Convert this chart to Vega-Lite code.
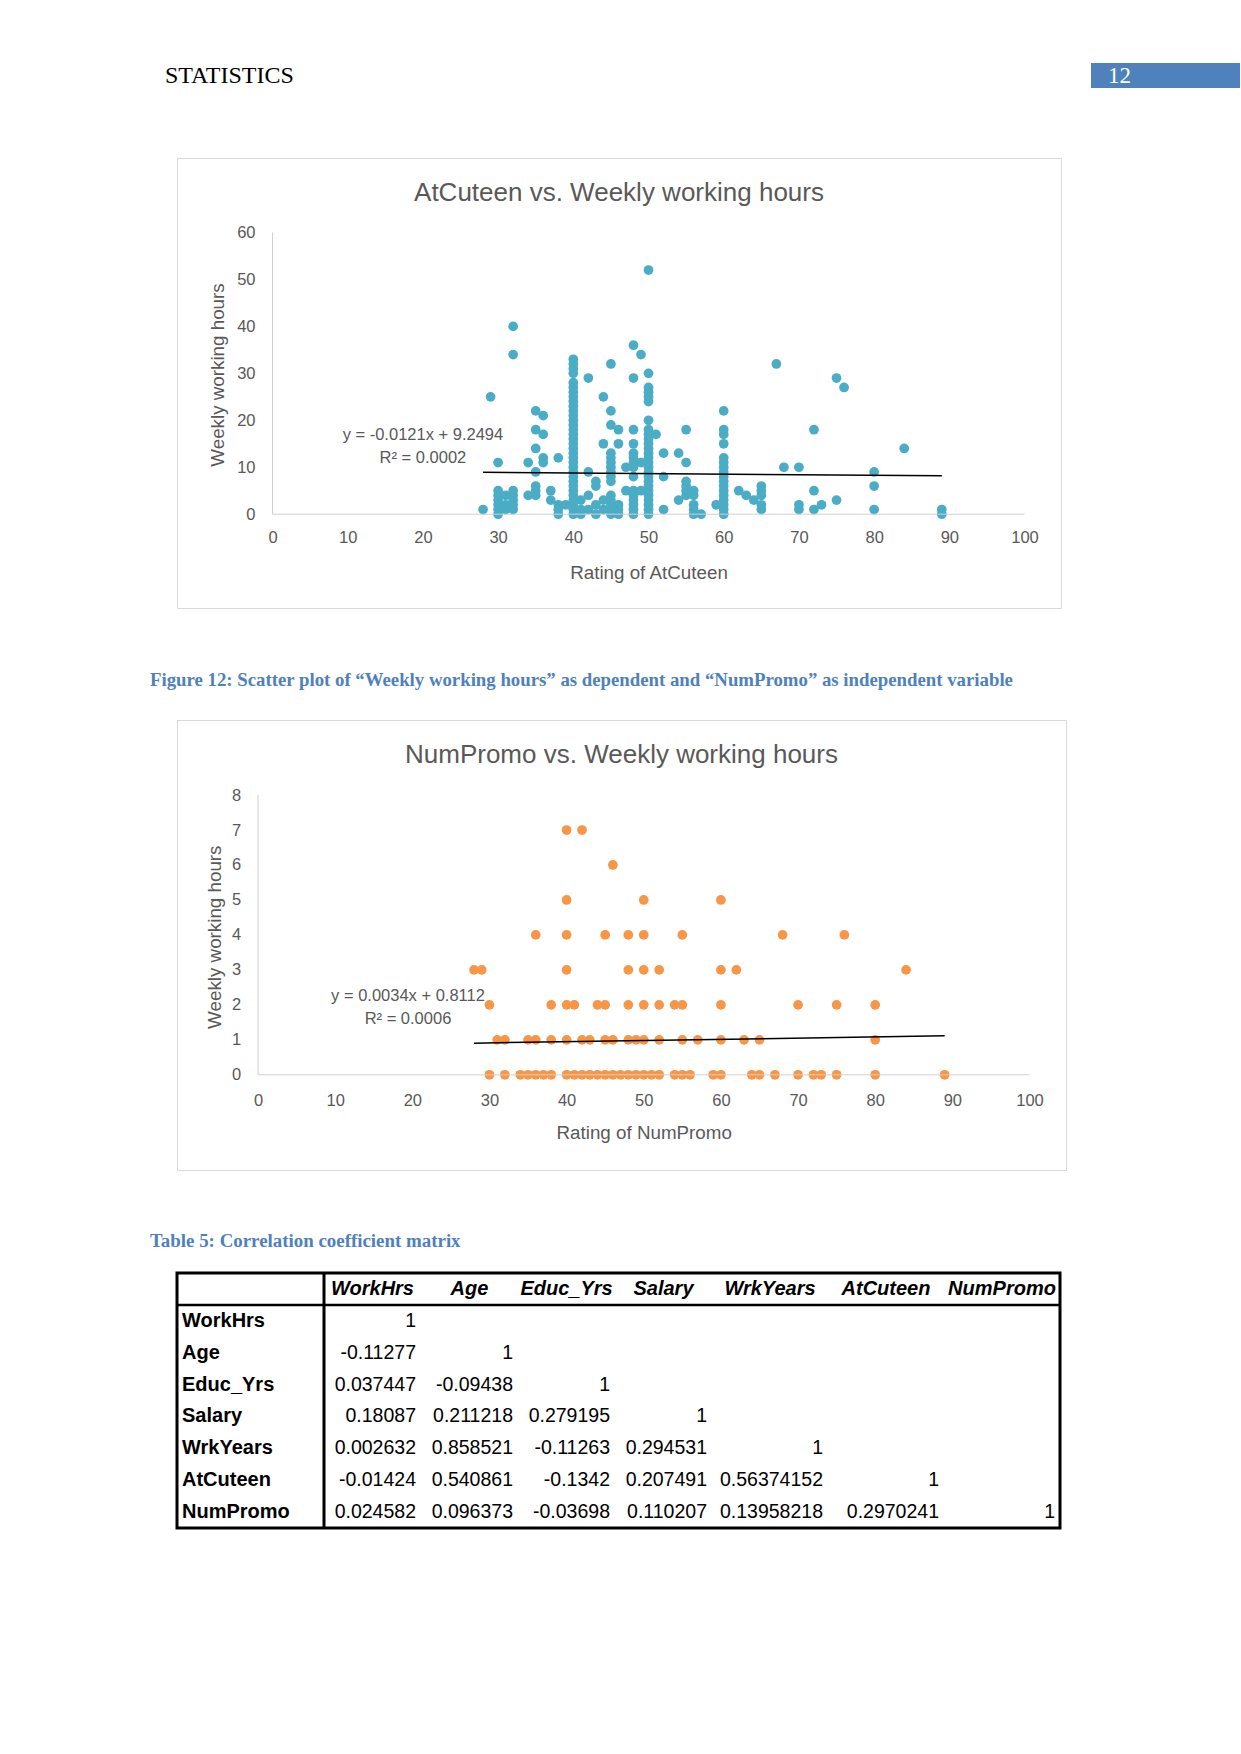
{
  "$schema": "https://vega.github.io/schema/vega-lite/v6.json",
  "background": "white",
  "padding": {"left": 150, "top": 63, "right": 0, "bottom": 0},
  "config": {"view": {"stroke": null}, "font": "Liberation Sans"},
  "datasets": {
    "atcuteen": [
      {"rating":28,"hours":1},{"rating":29,"hours":25},
      {"rating":30,"hours":11},{"rating":30,"hours":5},{"rating":30,"hours":4},{"rating":30,"hours":3},{"rating":30,"hours":2},{"rating":30,"hours":1},{"rating":30,"hours":0},
      {"rating":31,"hours":4},{"rating":31,"hours":2},{"rating":31,"hours":1},
      {"rating":32,"hours":40},{"rating":32,"hours":34},{"rating":32,"hours":5},{"rating":32,"hours":4},{"rating":32,"hours":3},{"rating":32,"hours":2},{"rating":32,"hours":1},
      {"rating":34,"hours":11},{"rating":34,"hours":4},
      {"rating":35,"hours":22},{"rating":35,"hours":18},{"rating":35,"hours":14},{"rating":35,"hours":9},{"rating":35,"hours":6},{"rating":35,"hours":5},{"rating":35,"hours":4},
      {"rating":36,"hours":21},{"rating":36,"hours":17},{"rating":36,"hours":12},{"rating":36,"hours":11},
      {"rating":37,"hours":5},{"rating":37,"hours":3},
      {"rating":38,"hours":12},{"rating":38,"hours":2},{"rating":38,"hours":1},{"rating":38,"hours":0},
      {"rating":39,"hours":2},
      {"rating":40,"hours":0},{"rating":40,"hours":1},{"rating":40,"hours":2},{"rating":40,"hours":3},{"rating":40,"hours":4},{"rating":40,"hours":5},{"rating":40,"hours":6},{"rating":40,"hours":7},{"rating":40,"hours":8},{"rating":40,"hours":9},{"rating":40,"hours":10},{"rating":40,"hours":11},{"rating":40,"hours":12},{"rating":40,"hours":13},{"rating":40,"hours":14},{"rating":40,"hours":15},{"rating":40,"hours":16},{"rating":40,"hours":17},{"rating":40,"hours":18},{"rating":40,"hours":19},{"rating":40,"hours":20},{"rating":40,"hours":21},{"rating":40,"hours":22},{"rating":40,"hours":23},{"rating":40,"hours":24},{"rating":40,"hours":25},{"rating":40,"hours":26},{"rating":40,"hours":27},{"rating":40,"hours":28},{"rating":40,"hours":30},{"rating":40,"hours":31},{"rating":40,"hours":32},{"rating":40,"hours":33},
      {"rating":41,"hours":3},{"rating":41,"hours":1},{"rating":41,"hours":0},
      {"rating":42,"hours":29},{"rating":42,"hours":9},{"rating":42,"hours":4},{"rating":42,"hours":1},
      {"rating":43,"hours":7},{"rating":43,"hours":6},{"rating":43,"hours":2},{"rating":43,"hours":0},
      {"rating":44,"hours":25},{"rating":44,"hours":15},{"rating":44,"hours":3},{"rating":44,"hours":1},
      {"rating":45,"hours":32},{"rating":45,"hours":22},{"rating":45,"hours":19},{"rating":45,"hours":13},{"rating":45,"hours":12},{"rating":45,"hours":11},{"rating":45,"hours":10},{"rating":45,"hours":9},{"rating":45,"hours":8},{"rating":45,"hours":7},{"rating":45,"hours":4},{"rating":45,"hours":3},{"rating":45,"hours":2},{"rating":45,"hours":1},{"rating":45,"hours":0},
      {"rating":46,"hours":18},{"rating":46,"hours":15},{"rating":46,"hours":2},{"rating":46,"hours":1},{"rating":46,"hours":0},
      {"rating":47,"hours":10},{"rating":47,"hours":5},
      {"rating":48,"hours":36},{"rating":48,"hours":29},{"rating":48,"hours":18},{"rating":48,"hours":15},{"rating":48,"hours":13},{"rating":48,"hours":12},{"rating":48,"hours":11},{"rating":48,"hours":10},{"rating":48,"hours":8},{"rating":48,"hours":5},{"rating":48,"hours":4},{"rating":48,"hours":3},{"rating":48,"hours":2},{"rating":48,"hours":1},{"rating":48,"hours":0},
      {"rating":49,"hours":34},{"rating":49,"hours":11},{"rating":49,"hours":5},
      {"rating":50,"hours":0},{"rating":50,"hours":1},{"rating":50,"hours":2},{"rating":50,"hours":3},{"rating":50,"hours":4},{"rating":50,"hours":5},{"rating":50,"hours":6},{"rating":50,"hours":7},{"rating":50,"hours":8},{"rating":50,"hours":9},{"rating":50,"hours":10},{"rating":50,"hours":11},{"rating":50,"hours":12},{"rating":50,"hours":13},{"rating":50,"hours":14},{"rating":50,"hours":15},{"rating":50,"hours":16},{"rating":50,"hours":17},{"rating":50,"hours":18},{"rating":50,"hours":20},{"rating":50,"hours":24},{"rating":50,"hours":25},{"rating":50,"hours":26},{"rating":50,"hours":27},{"rating":50,"hours":30},{"rating":50,"hours":52},
      {"rating":51,"hours":17},
      {"rating":52,"hours":13},{"rating":52,"hours":8},{"rating":52,"hours":1},
      {"rating":54,"hours":13},{"rating":54,"hours":3},
      {"rating":55,"hours":18},{"rating":55,"hours":11},{"rating":55,"hours":7},{"rating":55,"hours":6},{"rating":55,"hours":5},{"rating":55,"hours":4},
      {"rating":56,"hours":5},{"rating":56,"hours":4},{"rating":56,"hours":2},{"rating":56,"hours":1},{"rating":56,"hours":0},
      {"rating":57,"hours":0},{"rating":59,"hours":2},
      {"rating":60,"hours":0},{"rating":60,"hours":1},{"rating":60,"hours":2},{"rating":60,"hours":3},{"rating":60,"hours":4},{"rating":60,"hours":5},{"rating":60,"hours":6},{"rating":60,"hours":7},{"rating":60,"hours":8},{"rating":60,"hours":9},{"rating":60,"hours":10},{"rating":60,"hours":11},{"rating":60,"hours":12},{"rating":60,"hours":15},{"rating":60,"hours":17},{"rating":60,"hours":18},{"rating":60,"hours":22},
      {"rating":62,"hours":5},{"rating":63,"hours":4},{"rating":64,"hours":3},
      {"rating":65,"hours":6},{"rating":65,"hours":5},{"rating":65,"hours":4},{"rating":65,"hours":2},{"rating":65,"hours":1},
      {"rating":67,"hours":32},{"rating":68,"hours":10},
      {"rating":70,"hours":10},{"rating":70,"hours":2},{"rating":70,"hours":1},
      {"rating":72,"hours":18},{"rating":72,"hours":5},{"rating":72,"hours":1},
      {"rating":73,"hours":2},
      {"rating":75,"hours":29},{"rating":75,"hours":3},{"rating":76,"hours":27},
      {"rating":80,"hours":9},{"rating":80,"hours":6},{"rating":80,"hours":1},
      {"rating":84,"hours":14},{"rating":89,"hours":1},{"rating":89,"hours":0}
    ],
    "trend1": [{"rating":28,"hours":8.91},{"rating":89,"hours":8.17}],
    "numpromo": [
      {"rating":40,"value":7},{"rating":42,"value":7},
      {"rating":46,"value":6},
      {"rating":40,"value":5},{"rating":50,"value":5},{"rating":60,"value":5},
      {"rating":36,"value":4},{"rating":40,"value":4},{"rating":45,"value":4},{"rating":48,"value":4},{"rating":50,"value":4},{"rating":55,"value":4},{"rating":68,"value":4},{"rating":76,"value":4},
      {"rating":28,"value":3},{"rating":29,"value":3},{"rating":40,"value":3},{"rating":48,"value":3},{"rating":50,"value":3},{"rating":52,"value":3},{"rating":60,"value":3},{"rating":62,"value":3},{"rating":84,"value":3},
      {"rating":30,"value":2},{"rating":38,"value":2},{"rating":40,"value":2},{"rating":41,"value":2},{"rating":44,"value":2},{"rating":45,"value":2},{"rating":48,"value":2},{"rating":50,"value":2},{"rating":52,"value":2},{"rating":54,"value":2},{"rating":55,"value":2},{"rating":60,"value":2},{"rating":70,"value":2},{"rating":75,"value":2},{"rating":80,"value":2},
      {"rating":31,"value":1},{"rating":32,"value":1},{"rating":35,"value":1},{"rating":36,"value":1},{"rating":38,"value":1},{"rating":40,"value":1},{"rating":42,"value":1},{"rating":43,"value":1},{"rating":45,"value":1},{"rating":46,"value":1},{"rating":48,"value":1},{"rating":49,"value":1},{"rating":50,"value":1},{"rating":52,"value":1},{"rating":55,"value":1},{"rating":57,"value":1},{"rating":60,"value":1},{"rating":63,"value":1},{"rating":65,"value":1},{"rating":80,"value":1},
      {"rating":30,"value":0},{"rating":32,"value":0},{"rating":34,"value":0},{"rating":35,"value":0},{"rating":36,"value":0},{"rating":37,"value":0},{"rating":38,"value":0},{"rating":40,"value":0},{"rating":41,"value":0},{"rating":42,"value":0},{"rating":43,"value":0},{"rating":44,"value":0},{"rating":45,"value":0},{"rating":46,"value":0},{"rating":47,"value":0},{"rating":48,"value":0},{"rating":49,"value":0},{"rating":50,"value":0},{"rating":51,"value":0},{"rating":52,"value":0},{"rating":54,"value":0},{"rating":55,"value":0},{"rating":56,"value":0},{"rating":59,"value":0},{"rating":60,"value":0},{"rating":64,"value":0},{"rating":65,"value":0},{"rating":67,"value":0},{"rating":70,"value":0},{"rating":72,"value":0},{"rating":73,"value":0},{"rating":75,"value":0},{"rating":80,"value":0},{"rating":89,"value":0}
    ],
    "trend2": [{"rating":28,"value":0.906},{"rating":89,"value":1.114}],
    "vars": [{"name":"WorkHrs"},{"name":"Age"},{"name":"Educ_Yrs"},{"name":"Salary"},{"name":"WrkYears"},{"name":"AtCuteen"},{"name":"NumPromo"}],
    "corr": [
      {"r":"WorkHrs","c":"WorkHrs","v":"1"},
      {"r":"Age","c":"WorkHrs","v":"-0.11277"},{"r":"Age","c":"Age","v":"1"},
      {"r":"Educ_Yrs","c":"WorkHrs","v":"0.037447"},{"r":"Educ_Yrs","c":"Age","v":"-0.09438"},{"r":"Educ_Yrs","c":"Educ_Yrs","v":"1"},
      {"r":"Salary","c":"WorkHrs","v":"0.18087"},{"r":"Salary","c":"Age","v":"0.211218"},{"r":"Salary","c":"Educ_Yrs","v":"0.279195"},{"r":"Salary","c":"Salary","v":"1"},
      {"r":"WrkYears","c":"WorkHrs","v":"0.002632"},{"r":"WrkYears","c":"Age","v":"0.858521"},{"r":"WrkYears","c":"Educ_Yrs","v":"-0.11263"},{"r":"WrkYears","c":"Salary","v":"0.294531"},{"r":"WrkYears","c":"WrkYears","v":"1"},
      {"r":"AtCuteen","c":"WorkHrs","v":"-0.01424"},{"r":"AtCuteen","c":"Age","v":"0.540861"},{"r":"AtCuteen","c":"Educ_Yrs","v":"-0.1342"},{"r":"AtCuteen","c":"Salary","v":"0.207491"},{"r":"AtCuteen","c":"WrkYears","v":"0.56374152"},{"r":"AtCuteen","c":"AtCuteen","v":"1"},
      {"r":"NumPromo","c":"WorkHrs","v":"0.024582"},{"r":"NumPromo","c":"Age","v":"0.096373"},{"r":"NumPromo","c":"Educ_Yrs","v":"-0.03698"},{"r":"NumPromo","c":"Salary","v":"0.110207"},{"r":"NumPromo","c":"WrkYears","v":"0.13958218"},{"r":"NumPromo","c":"AtCuteen","v":"0.2970241"},{"r":"NumPromo","c":"NumPromo","v":"1"}
    ]
  },
  "spacing": 0,
  "vconcat": [
    {
      "spacing": 0,
      "hconcat": [
        {
          "width": 914, "height": 94,
          "title": {"text": "STATISTICS", "anchor": "start", "frame": "group", "orient": "top", "dx": -12, "offset": -25, "font": "Liberation Serif", "fontSize": 24, "fontWeight": "normal", "color": "#000000"},
          "data": {"values": []},
          "mark": "point"
        },
        {
          "width": 149, "height": 25,
          "view": {"fill": "#4f81bd", "stroke": null},
          "data": {"values": [{"page": "12"}]},
          "mark": {"type": "text", "align": "left", "baseline": "middle", "dx": -57.5, "font": "Liberation Serif", "fontSize": 23, "color": "#ffffff"},
          "encoding": {"text": {"field": "page", "type": "nominal"}}
        }
      ]
    },
    {
      "width": 884, "height": 450,
      "view": {"stroke": "#d9d9d9", "strokeWidth": 1},
      "title": {"text": "AtCuteen vs. Weekly working hours", "anchor": "middle", "frame": "group", "offset": -48.3, "font": "Liberation Sans", "fontSize": 26, "fontWeight": "normal", "color": "#595959"},
      "layer": [
        {
          "data": {"name": "atcuteen"},
          "mark": {"type": "circle", "size": 95, "opacity": 1, "color": "#4bacc6"},
          "encoding": {
            "x": {"field": "rating", "type": "quantitative",
              "scale": {"domain": [-12.7, 104.85], "nice": false, "zero": false},
              "axis": {"values": [0,10,20,30,40,50,60,70,80,90,100], "domain": false, "grid": false, "ticks": false, "labelFlush": false, "labelOverlap": false, "labelPadding": 0, "offset": -78.5, "labelFont": "Liberation Sans", "labelFontSize": 16.5, "labelColor": "#595959", "labelBaseline": "top", "labelAlign": "center", "title": "Rating of AtCuteen", "titleFont": "Liberation Sans", "titleFontSize": 18.8, "titleFontWeight": "normal", "titleColor": "#595959", "titleX": 471.5, "titleY": 33.7, "titleAlign": "center", "titleBaseline": "top", "titleAngle": 0}},
            "y": {"field": "hours", "type": "quantitative",
              "scale": {"domain": [-19.98, 75.87], "nice": false, "zero": false},
              "axis": {"values": [0,10,20,30,40,50,60], "domain": false, "grid": false, "ticks": false, "labelFlush": false, "labelOverlap": false, "labelPadding": 0, "offset": -78, "labelFont": "Liberation Sans", "labelFontSize": 16.5, "labelColor": "#595959", "labelAlign": "right", "labelBaseline": "middle", "labelAngle": 0, "title": "Weekly working hours", "titleFont": "Liberation Sans", "titleFontSize": 18.8, "titleFontWeight": "normal", "titleColor": "#595959", "titleX": -28, "titleY": 216.5, "titleAlign": "center", "titleBaseline": "bottom", "titleAngle": 270}}
          }
        },
        {
          "data": {"values": [{}]},
          "mark": {"type": "rule", "color": "#d0d0d0", "strokeWidth": 1},
          "encoding": {"x": {"datum": 0}, "x2": {"datum": 100}, "y": {"datum": 0}}
        },
        {
          "data": {"values": [{}]},
          "mark": {"type": "rule", "color": "#d0d0d0", "strokeWidth": 1},
          "encoding": {"x": {"datum": 0}, "y": {"datum": 0}, "y2": {"datum": 60}}
        },
        {
          "data": {"name": "trend1"},
          "mark": {"type": "line", "color": "#000000", "strokeWidth": 1.5},
          "encoding": {"x": {"field": "rating", "type": "quantitative"}, "y": {"field": "hours", "type": "quantitative"}}
        },
        {
          "data": {"values": [{}]},
          "mark": {"type": "text", "font": "Liberation Sans", "fontSize": 16.5, "color": "#595959", "align": "center", "baseline": "middle"},
          "encoding": {"x": {"datum": 20}, "y": {"datum": 16.8}, "text": {"value": "y = -0.0121x + 9.2494"}}
        },
        {
          "data": {"values": [{}]},
          "mark": {"type": "text", "font": "Liberation Sans", "fontSize": 16.5, "color": "#595959", "align": "center", "baseline": "middle"},
          "encoding": {"x": {"datum": 20}, "y": {"datum": 12.0}, "text": {"value": "R² = 0.0002"}}
        }
      ]
    },
    {
      "width": 884, "height": 110,
      "title": {"text": "Figure 12: Scatter plot of “Weekly working hours” as dependent and “NumPromo” as independent variable", "anchor": "start", "frame": "group", "dx": -27, "offset": -80.7, "font": "Liberation Serif", "fontSize": 18.8, "fontWeight": "bold", "color": "#4f81bd", "limit": 1100},
      "data": {"values": []},
      "mark": "point"
    },
    {
      "width": 889, "height": 450,
      "view": {"stroke": "#d9d9d9", "strokeWidth": 1},
      "title": {"text": "NumPromo vs. Weekly working hours", "anchor": "middle", "frame": "group", "offset": -48.3, "font": "Liberation Sans", "fontSize": 26, "fontWeight": "normal", "color": "#595959"},
      "layer": [
        {
          "data": {"name": "numpromo"},
          "mark": {"type": "circle", "size": 95, "opacity": 1, "color": "#f79646"},
          "encoding": {
            "x": {"field": "rating", "type": "quantitative",
              "scale": {"domain": [-10.5, 104.73], "nice": false, "zero": false},
              "axis": {"values": [0,10,20,30,40,50,60,70,80,90,100], "domain": false, "grid": false, "ticks": false, "labelFlush": false, "labelOverlap": false, "labelPadding": 0, "offset": -77.5, "labelFont": "Liberation Sans", "labelFontSize": 16.5, "labelColor": "#595959", "labelBaseline": "top", "labelAlign": "center", "title": "Rating of NumPromo", "titleFont": "Liberation Sans", "titleFontSize": 18.8, "titleFontWeight": "normal", "titleColor": "#595959", "titleX": 466.7, "titleY": 31.2, "titleAlign": "center", "titleBaseline": "top", "titleAngle": 0}},
            "y": {"field": "value", "type": "quantitative",
              "scale": {"domain": [-2.722, 10.146], "nice": false, "zero": false},
              "axis": {"values": [0,1,2,3,4,5,6,7,8], "domain": false, "grid": false, "ticks": false, "labelFlush": false, "labelOverlap": false, "labelPadding": 0, "offset": -63.7, "labelFont": "Liberation Sans", "labelFontSize": 16.5, "labelColor": "#595959", "labelAlign": "right", "labelBaseline": "middle", "labelAngle": 0, "title": "Weekly working hours", "titleFont": "Liberation Sans", "titleFontSize": 18.8, "titleFontWeight": "normal", "titleColor": "#595959", "titleX": -16.6, "titleY": 216.7, "titleAlign": "center", "titleBaseline": "bottom", "titleAngle": 270}}
          }
        },
        {
          "data": {"values": [{}]},
          "mark": {"type": "rule", "color": "#d0d0d0", "strokeWidth": 1},
          "encoding": {"x": {"datum": 0}, "x2": {"datum": 100}, "y": {"datum": 0}}
        },
        {
          "data": {"values": [{}]},
          "mark": {"type": "rule", "color": "#d0d0d0", "strokeWidth": 1},
          "encoding": {"x": {"datum": 0}, "y": {"datum": 0}, "y2": {"datum": 8}}
        },
        {
          "data": {"name": "trend2"},
          "mark": {"type": "line", "color": "#000000", "strokeWidth": 1.5},
          "encoding": {"x": {"field": "rating", "type": "quantitative"}, "y": {"field": "value", "type": "quantitative"}}
        },
        {
          "data": {"values": [{}]},
          "mark": {"type": "text", "font": "Liberation Sans", "fontSize": 16.5, "color": "#595959", "align": "center", "baseline": "middle"},
          "encoding": {"x": {"datum": 19.44}, "y": {"datum": 2.26}, "text": {"value": "y = 0.0034x + 0.8112"}}
        },
        {
          "data": {"values": [{}]},
          "mark": {"type": "text", "font": "Liberation Sans", "fontSize": 16.5, "color": "#595959", "align": "center", "baseline": "middle"},
          "encoding": {"x": {"datum": 19.44}, "y": {"datum": 1.6}, "text": {"value": "R² = 0.0006"}}
        }
      ]
    },
    {
      "width": 884, "height": 99,
      "title": {"text": "Table 5: Correlation coefficient matrix", "anchor": "start", "frame": "group", "dx": -27, "offset": -80.2, "font": "Liberation Serif", "fontSize": 18.9, "fontWeight": "bold", "color": "#4f81bd", "limit": 1100},
      "data": {"values": []},
      "mark": "point"
    },
    {
      "width": 883, "height": 255,
      "view": {"stroke": "#000000", "strokeWidth": 3},
      "resolve": {"scale": {"x": "independent"}},
      "layer": [
        {
          "data": {"name": "vars"},
          "mark": {"type": "text", "align": "left", "baseline": "middle", "dx": 5, "font": "Liberation Sans", "fontSize": 20, "fontWeight": "bold", "color": "#000000"},
          "encoding": {
            "x": {"datum": "Variable", "type": "nominal", "bandPosition": 0, "axis": null, "scale": {"type": "band", "domain": ["Variable"], "range": [0, 147], "paddingInner": 0, "paddingOuter": 0}},
            "y": {"field": "name", "type": "nominal", "bandPosition": 0.5, "axis": null, "scale": {"type": "band", "domain": ["header","WorkHrs","Age","Educ_Yrs","Salary","WrkYears","AtCuteen","NumPromo"], "paddingInner": 0, "paddingOuter": 0}},
            "text": {"field": "name", "type": "nominal"}
          }
        },
        {
          "data": {"values": [{}]},
          "mark": {"type": "rule", "color": "#000000", "strokeWidth": 3},
          "encoding": {"x": {"datum": "Variable", "type": "nominal", "bandPosition": 1, "axis": null, "scale": {"type": "band", "domain": ["Variable"], "range": [0, 147], "paddingInner": 0, "paddingOuter": 0}}}
        },
        {
          "data": {"values": [{}]},
          "mark": {"type": "rule", "color": "#000000", "strokeWidth": 2.5},
          "encoding": {"y": {"datum": "WorkHrs", "type": "nominal", "bandPosition": 0, "axis": null}}
        },
        {
          "data": {"name": "vars"},
          "transform": [{"filter": {"field": "name", "oneOf": ["WorkHrs","Age","Educ_Yrs","Salary"]}}],
          "mark": {"type": "text", "align": "center", "baseline": "middle", "font": "Liberation Sans", "fontSize": 20, "fontWeight": "bold", "fontStyle": "italic", "color": "#000000"},
          "encoding": {
            "x": {"field": "name", "type": "nominal", "bandPosition": 0.5, "axis": null, "scale": {"type": "band", "domain": ["WorkHrs","Age","Educ_Yrs","Salary"], "range": [147, 535], "paddingInner": 0, "paddingOuter": 0}},
            "y": {"datum": "header", "type": "nominal", "bandPosition": 0.5, "axis": null},
            "text": {"field": "name", "type": "nominal"}
          }
        },
        {
          "data": {"name": "corr"},
          "transform": [{"filter": {"field": "c", "oneOf": ["WorkHrs","Age","Educ_Yrs","Salary"]}}],
          "mark": {"type": "text", "align": "right", "baseline": "middle", "dx": -5, "font": "Liberation Sans", "fontSize": 19.5, "color": "#000000"},
          "encoding": {
            "x": {"field": "c", "type": "nominal", "bandPosition": 1, "axis": null, "scale": {"type": "band", "domain": ["WorkHrs","Age","Educ_Yrs","Salary"], "range": [147, 535], "paddingInner": 0, "paddingOuter": 0}},
            "y": {"field": "r", "type": "nominal", "bandPosition": 0.5, "axis": null},
            "text": {"field": "v", "type": "nominal"}
          }
        },
        {
          "data": {"name": "vars"},
          "transform": [{"filter": {"field": "name", "oneOf": ["WrkYears","AtCuteen","NumPromo"]}}],
          "mark": {"type": "text", "align": "center", "baseline": "middle", "font": "Liberation Sans", "fontSize": 20, "fontWeight": "bold", "fontStyle": "italic", "color": "#000000"},
          "encoding": {
            "x": {"field": "name", "type": "nominal", "bandPosition": 0.5, "axis": null, "scale": {"type": "band", "domain": ["WrkYears","AtCuteen","NumPromo"], "range": [535, 883], "paddingInner": 0, "paddingOuter": 0}},
            "y": {"datum": "header", "type": "nominal", "bandPosition": 0.5, "axis": null},
            "text": {"field": "name", "type": "nominal"}
          }
        },
        {
          "data": {"name": "corr"},
          "transform": [{"filter": {"field": "c", "oneOf": ["WrkYears","AtCuteen","NumPromo"]}}],
          "mark": {"type": "text", "align": "right", "baseline": "middle", "dx": -5, "font": "Liberation Sans", "fontSize": 19.5, "color": "#000000"},
          "encoding": {
            "x": {"field": "c", "type": "nominal", "bandPosition": 1, "axis": null, "scale": {"type": "band", "domain": ["WrkYears","AtCuteen","NumPromo"], "range": [535, 883], "paddingInner": 0, "paddingOuter": 0}},
            "y": {"field": "r", "type": "nominal", "bandPosition": 0.5, "axis": null},
            "text": {"field": "v", "type": "nominal"}
          }
        }
      ]
    }
  ]
}
